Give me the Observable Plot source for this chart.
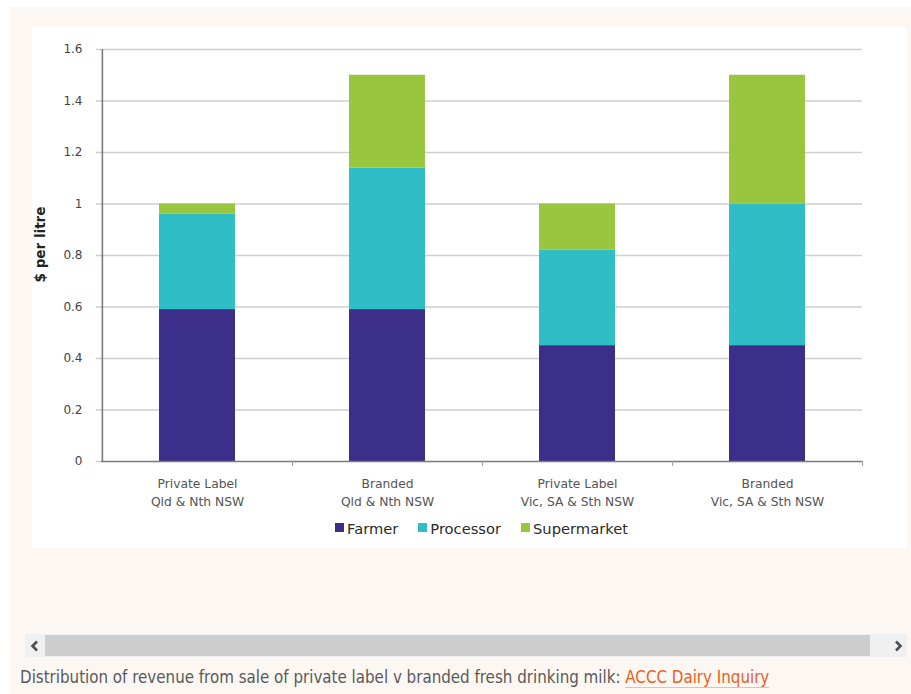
<!DOCTYPE html>
<html>
<head>
<meta charset="utf-8">
<script src="https://cdn.jsdelivr.net/npm/d3@7"></script>
<script src="https://cdn.jsdelivr.net/npm/@observablehq/plot@0.6"></script>
<style>
  html, body { margin: 0; padding: 0; background: #ffffff; }
  #page { position: absolute; left: 10px; top: 7px; width: 901px; height: 687px; background: #fcf7f3; }
  #panel { position: absolute; left: 22px; top: 20px; width: 875px; height: 521px; background: #ffffff; }
  #chart svg { display: block; }
  #legend { position: absolute; left: 69px; width: 761px; top: 493px; display: flex; justify-content: center; gap: 20px;
            font-family: "DejaVu Sans", sans-serif; font-size: 14.7px; color: #2b2b2b; }
  #legend span.item { display: inline-flex; align-items: center; }
  #legend span.sw { display: inline-block; width: 9px; height: 9px; margin-right: 3px; margin-top: -3px; }
  #scroll { position: absolute; left: 15px; top: 627px; width: 882px; height: 23px; background: #f0f0f0; }
  #thumb { position: absolute; left: 20px; top: 1px; width: 825px; height: 21px; background: #cdcdcd; }
  .arrow { position: absolute; top: 6px; }
  #caption { position: absolute; left: 10px; top: 660px; font-family: "Ubuntu Condensed", "Liberation Sans Narrow", "DejaVu Sans Condensed", "Open Sans", sans-serif;
             font-stretch: condensed; font-size: 16.8px; color: #5a5a5a; white-space: nowrap; }
  #caption a { color: #e8601c; text-decoration: none; border-bottom: 1.5px solid #c9c9c9; }
</style>
</head>
<body>
<div id="page">
  <div id="panel">
    <div id="chart"></div>
    <div id="legend"></div>
  </div>
  <div id="scroll">
    <svg class="arrow" style="left:5px" width="10" height="12"><polyline points="7,1.5 2.5,6 7,10.5" fill="none" stroke="#505050" stroke-width="2.6"/></svg>
    <div id="thumb"></div>
    <svg class="arrow" style="left:868px" width="10" height="12"><polyline points="3,1.5 7.5,6 3,10.5" fill="none" stroke="#505050" stroke-width="2.6"/></svg>
  </div>
  <div id="caption">Distribution of revenue from sale of private label v branded fresh drinking milk: <a href="#">ACCC Dairy Inquiry</a></div>
</div>
<script>
const categories = [
  "Private Label\nQld & Nth NSW",
  "Branded\nQld & Nth NSW",
  "Private Label\nVic, SA & Sth NSW",
  "Branded\nVic, SA & Sth NSW"
];
const seriesNames = ["Farmer", "Processor", "Supermarket"];
const seriesColors = ["#3b2f8a", "#2fbdc6", "#98c63e"];
const farmer = [0.59, 0.59, 0.45, 0.45];
const processor = [0.37, 0.55, 0.37, 0.55];
const supermarket = [0.04, 0.36, 0.18, 0.50];
const yTicks = [0, 0.2, 0.4, 0.6, 0.8, 1, 1.2, 1.4, 1.6];

const values = [farmer, processor, supermarket];
const data = [];
seriesNames.forEach((s, si) => categories.forEach((c, ci) => data.push({category: c, series: s, value: values[si][ci]})));

const W = 875, H = 488, mL = 69, mR = 45, mT = 22, mB = 54;
const step = (W - mL - mR) / categories.length;

const chart = Plot.plot({
  width: W, height: H,
  marginLeft: mL, marginRight: mR, marginTop: mT, marginBottom: mB,
  style: {fontFamily: "'DejaVu Sans', sans-serif", background: "transparent"},
  x: {domain: categories, padding: 0.6, paddingOuter: 0.3},
  y: {domain: [0, 1.6]},
  color: {domain: seriesNames, range: seriesColors},
  marks: [
    Plot.gridY(yTicks.filter(d => d > 0), {stroke: "#cfcfcf", strokeOpacity: 1, strokeWidth: 1.6}),
    Plot.axisY(yTicks, {tickSize: 5, stroke: "#cfcfcf", strokeWidth: 1.6, tickPadding: 14, fontSize: 12, fill: "#444",
      tickFormat: d => String(d),
      label: "$ per litre", labelAnchor: "center", labelOffset: 66, labelArrow: "none"}),
    Plot.barY(data, {x: "category", y: "value", fill: "series", order: seriesNames}),
    Plot.ruleY([0], {stroke: "#7a7a7a", strokeWidth: 1.6}),
    Plot.ruleX([categories[0]], {dx: -step / 2, stroke: "#7a7a7a", strokeWidth: 1.6}),
    Plot.ruleX(categories, {dx: step / 2, y1: 0, y2: 0, insetBottom: -5, stroke: "#9a9a9a", strokeWidth: 1}),
    Plot.axisX({tickSize: 0, tickPadding: 14, fontSize: 12.3, fill: "#555", lineHeight: 1.45, label: null})
  ]
});
chart.querySelectorAll("[aria-label='y-axis label'] text").forEach(t => {
  t.setAttribute("font-weight", "bold"); t.setAttribute("font-size", "13.5"); t.setAttribute("fill", "#222"); t.setAttribute("dx", "11");
});
document.getElementById("chart").appendChild(chart);

const legend = document.getElementById("legend");
seriesNames.forEach((s, i) => {
  const item = document.createElement("span");
  item.className = "item";
  item.innerHTML = `<span class="sw" style="background:${seriesColors[i]}"></span>${s}`;
  legend.appendChild(item);
});
</script>
</body>
</html>
